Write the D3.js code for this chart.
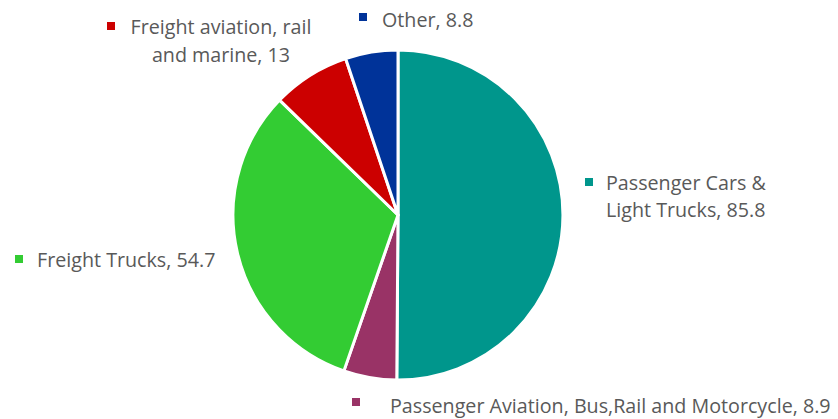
<!DOCTYPE html>
<html><head><meta charset="utf-8">
<script src="https://cdn.jsdelivr.net/npm/d3@7/dist/d3.min.js"></script>
<style>body{margin:0;background:#fff}svg{display:block}text{font-family:"Open Sans",sans-serif;font-size:19.7px;fill:#595959}</style>
</head><body>
<svg id="c" width="838" height="419"></svg>
<script>
const categories = ["Passenger Cars & Light Trucks","Passenger Aviation, Bus,Rail and Motorcycle","Freight Trucks","Freight aviation, rail and marine","Other"];
const values = [85.8, 8.9, 54.7, 13, 8.8];
const colors = ["#00968C","#993366","#33CC33","#CC0000","#003399"];
const labelLines = [
  ["Passenger Cars &","Light Trucks, 85.8"],
  ["Passenger Aviation, Bus,Rail and Motorcycle, 8.9"],
  ["Freight Trucks, 54.7"],
  ["Freight aviation, rail","and marine, 13"],
  ["Other, 8.8"]
];
// label layout: marker x,y, text x, baseline, anchor
const labelPos = [
  {mx:585,my:178,tx:606,ty:190,anchor:"start",lh:27},
  {mx:352,my:398,tx:390,ty:413,anchor:"start",lh:27},
  {mx:15,my:255,tx:37,ty:267,anchor:"start",lh:27},
  {mx:107,my:22,tx:221,ty:34,anchor:"middle",lh:28},
  {mx:359,my:13,tx:382,ty:27,anchor:"start",lh:27}
];
const svg = d3.select("#c");
const cx=398, cy=215, r=165;
const pie = d3.pie().sort(null).value(d=>d)(values);
const arc = d3.arc().innerRadius(0).outerRadius(r);
const g = svg.append("g").attr("transform",`translate(${cx},${cy})`);
g.selectAll("path").data(pie).join("path")
  .attr("d",arc).attr("fill",(d,i)=>colors[i])
  .attr("stroke","#fff").attr("stroke-width",3).attr("stroke-linejoin","round");
const lg = svg.append("g");
labelPos.forEach((p,i)=>{
  lg.append("rect").attr("x",p.mx).attr("y",p.my).attr("width",8).attr("height",8).attr("fill",colors[i]);
  const t = lg.append("text").attr("x",p.tx).attr("y",p.ty).attr("text-anchor",p.anchor);
  labelLines[i].forEach((s,j)=>{
    t.append("tspan").attr("x",p.tx).attr("y",p.ty+j*p.lh).text(s);
  });
});
</script>
</body></html>
